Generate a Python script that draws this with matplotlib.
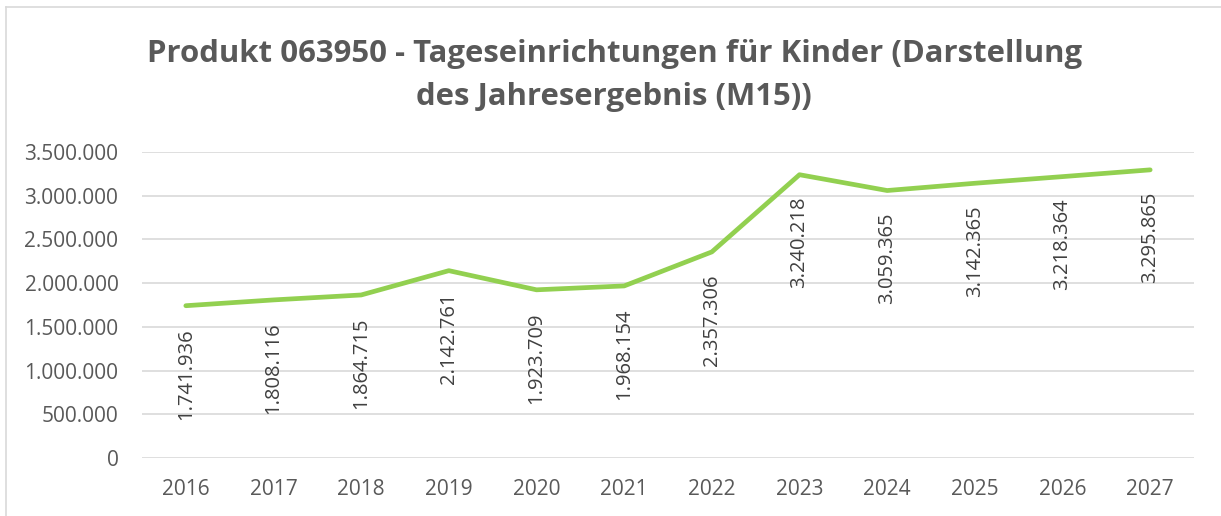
import matplotlib
matplotlib.use("Agg")
import matplotlib.pyplot as plt
from matplotlib.lines import Line2D
from matplotlib.ticker import FuncFormatter

plt.rcParams["font.family"] = ["Open Sans", "DejaVu Sans"]

# ---------- Data ----------
years = ["2016", "2017", "2018", "2019", "2020", "2021",
         "2022", "2023", "2024", "2025", "2026", "2027"]
ergebnis = [1741936, 1808116, 1864715, 2142761, 1923709, 1968154,
            2357306, 3240218, 3059365, 3142365, 3218364, 3295865]
y_ticks = [0, 500000, 1000000, 1500000, 2000000, 2500000, 3000000, 3500000]

title = ("Produkt 063950 - Tageseinrichtungen für Kinder (Darstellung\n"
         "des Jahresergebnis (M15))")


def de_fmt(v):
    return f"{v:,.0f}".replace(",", ".")


W, H = 1221, 516
fig = plt.figure(figsize=(W / 100, H / 100), dpi=100)
ax = fig.add_axes([142 / W, 1 - 458 / H, (1194 - 142) / W, (458 - 152) / H])

x = range(len(years))
ax.plot(x, ergebnis, color="#92D050", lw=3.4, solid_capstyle="round",
        solid_joinstyle="round", zorder=3)

for i, v in zip(x, ergebnis):
    ax.annotate(de_fmt(v), (i, v), xytext=(0, -16), textcoords="offset points",
                rotation=90, ha="center", va="top", fontsize=14.5, color="#404040")

ax.set_xlim(-0.5, len(years) - 0.5)
ax.set_ylim(0, 3500000)
ax.set_yticks(y_ticks)
ax.yaxis.set_major_formatter(FuncFormatter(lambda v, p: de_fmt(v)))
ax.set_xticks(list(x))
ax.set_xticklabels(years)

ax.grid(axis="y", color="#D9D9D9", lw=1.2)
ax.set_axisbelow(True)
for s in ax.spines.values():
    s.set_visible(False)
ax.tick_params(length=0, labelsize=15, labelcolor="#595959")
ax.tick_params(axis="y", pad=17)
ax.tick_params(axis="x", pad=15)

fig.text(0.503, 1 - 39 / H, title, ha="center", va="top", fontsize=22.4,
         fontweight="bold", color="#595959", linespacing=1.58)

# chart border (left and top visible)
fig.add_artist(Line2D([5.5 / W, 5.5 / W], [0, 1 - 7 / H], color="#D9D9D9", lw=1.2))
fig.add_artist(Line2D([5.5 / W, 1], [1 - 7 / H, 1 - 7 / H], color="#D9D9D9", lw=1.2))

fig.savefig("out.png", dpi=100)
